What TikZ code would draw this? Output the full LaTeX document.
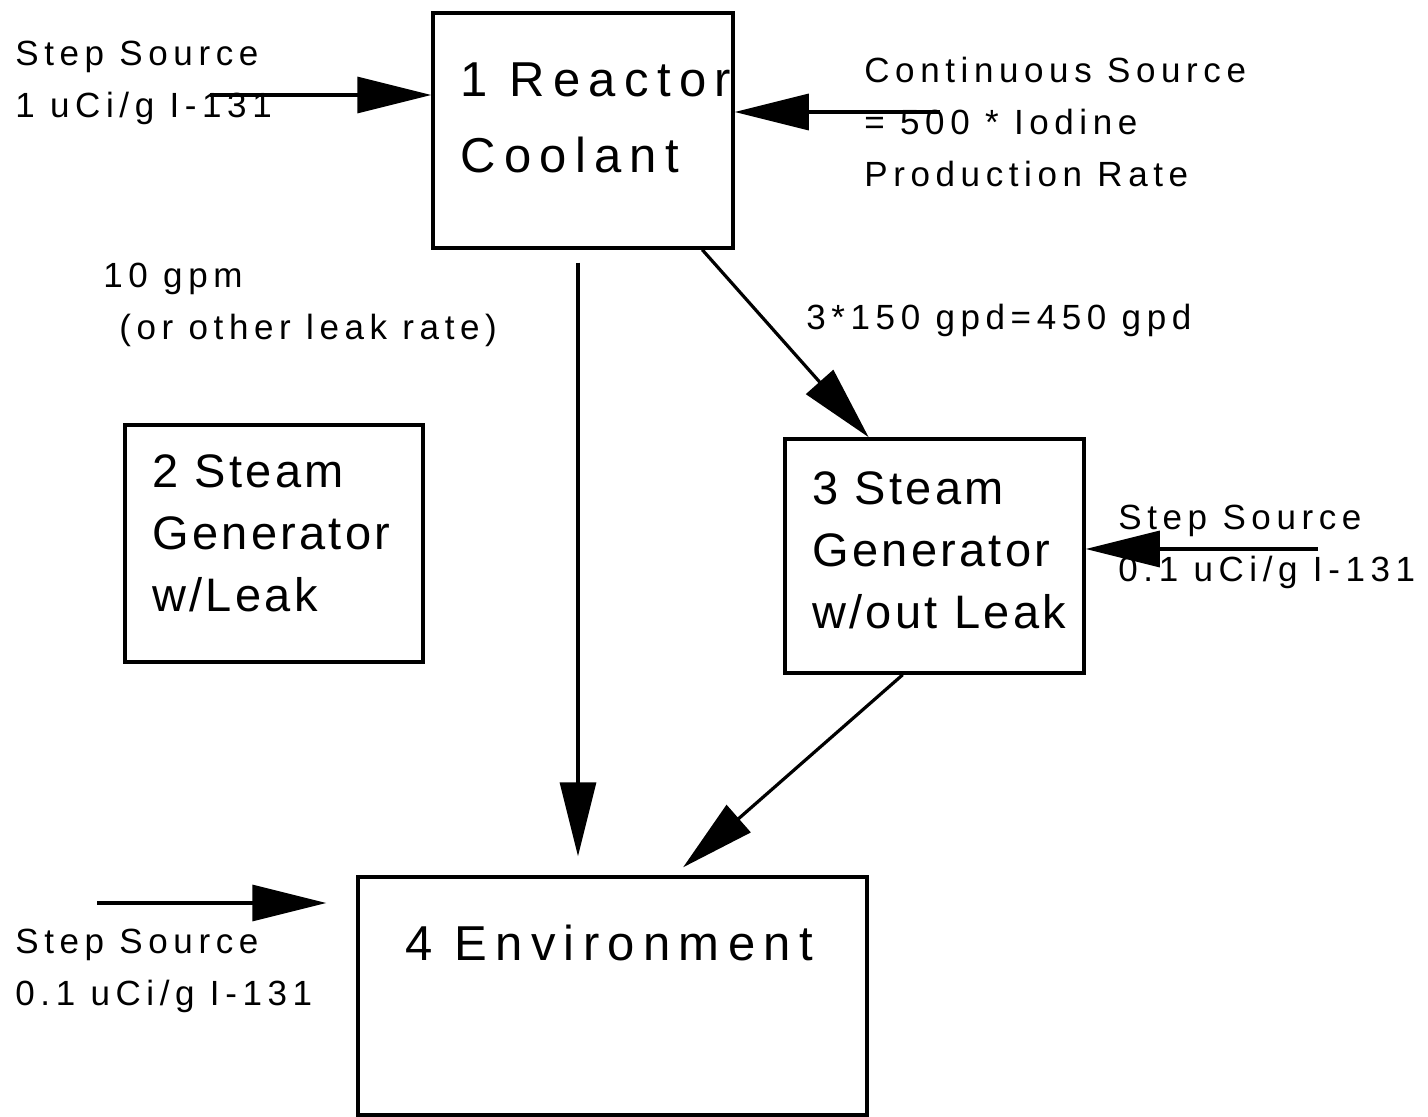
\documentclass[tikz,border=0pt]{standalone}
\usepackage{fontspec}
\setmainfont{Liberation Sans}
\newfontfamily\notefont[LetterSpace=16]{Liberation Sans}
\newfontfamily\wideboxfont[LetterSpace=17]{Liberation Sans}
\newfontfamily\boxfont[LetterSpace=7]{Liberation Sans}
\usetikzlibrary{arrows.meta}

\begin{document}
\begin{tikzpicture}[
    x=0.5pt, y=-0.5pt,
    tank/.style={rectangle, draw=black, line width=1.75pt, inner sep=0pt},
    note/.style={anchor=base west, inner sep=0pt, align=left,
                 font=\notefont\fontsize{17.5}{26}\selectfont},
    title/.style={anchor=base west, inner sep=0pt, align=left},
    flow/.style={-{Triangle[length=37pt,width=18pt]}, line width=1.6pt, draw=black}
]
    \useasboundingbox (0,0) rectangle (1428,1117);

    % compartments
    \node[tank, minimum width=150pt, minimum height=117.5pt] (rc) at (583,130.5) {};
    \node[tank, minimum width=149pt, minimum height=118.5pt] (sgl) at (274,543.5) {};
    \node[tank, minimum width=149.5pt, minimum height=117pt] (sgn) at (934.5,556) {};
    \node[tank, minimum width=254.5pt, minimum height=119pt] (env) at (612.5,996) {};

    % base anchor = last line
    \node[title, font=\wideboxfont\fontsize{24.5}{38}\selectfont] (rctext) at (460,173) {1 Reactor\\Coolant};
    \node[title, font=\boxfont\fontsize{23.5}{31}\selectfont] (sgltext) at (152,611) {2 Steam\\Generator\\w/Leak};
    \node[title, font=\boxfont\fontsize{23.5}{31}\selectfont] (sgntext) at (812,628) {3 Steam\\Generator\\w/out Leak};
    \node[title, font=\wideboxfont\fontsize{24.5}{38}\selectfont] (envtext) at (405,960) {4 Environment};

    % sources and rates
    \node[note] (srcone) at (15,118) {Step Source\\1 uCi/g I-131};
    \node[note] (cont) at (864,187) {Continuous Source\\= 500 * Iodine\\Production Rate};
    \node[note] (leak) at (103,340) {10 gpm\\\hspace*{8pt}(or other leak rate)};
    \node[note] (tube) at (806,329) {3*150 gpd=450 gpd};
    \node[note] (srcthree) at (1118,581) {Step Source\\0.1 uCi/g I-131};
    \node[note] (srcfour) at (15,1005) {Step Source\\0.1 uCi/g I-131};

    \coordinate (inone) at (210,95);
    \coordinate (incont) at (940,112);
    \coordinate (inthree) at (1318,549);
    \coordinate (infour) at (97,903);

    \draw[flow] (inone) -- (rc.west |- inone);
    \draw[flow] (incont) -- (rc.east |- incont);
    \draw[flow] (inthree) -- (sgn.east |- inthree);
    \draw[flow, shorten >=15pt] (infour) -- (env.west |- infour);

    \draw[flow, shorten <=6.5pt, shorten >=9.5pt] ([xshift=-2.5pt]rc.south) -- ([xshift=-2.5pt]rc.south |- env.north);
    \draw[flow] (rc.-45) -- (sgn.119);
    \draw[flow, shorten >=6pt] (sgn.-105) -- (env.63.3);
\end{tikzpicture}
\end{document}
